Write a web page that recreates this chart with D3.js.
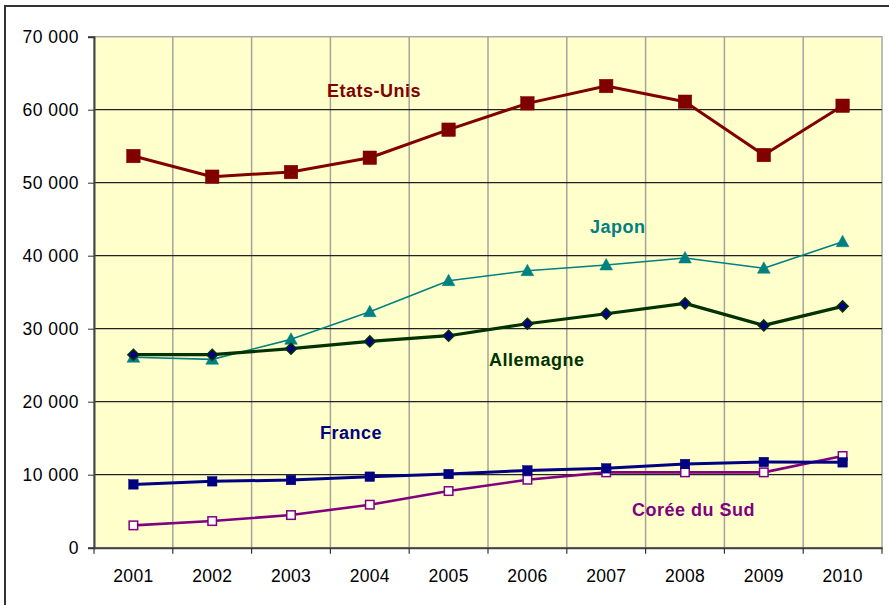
<!DOCTYPE html>
<html><head><meta charset="utf-8">
<script src="https://cdn.jsdelivr.net/npm/d3@7"></script>
<style>body{margin:0;background:#fff}svg{display:block}</style>
</head><body>
<svg id="chart" width="889" height="605"></svg>
<script>
const years = ["2001","2002","2003","2004","2005","2006","2007","2008","2009","2010"];
const yTicks = [0,10000,20000,30000,40000,50000,60000,70000];
const etatsUnis = [53650,50820,51460,53420,57260,60870,63240,61090,53790,60540];
const japon     = [26080,25800,28540,32320,36570,37940,38720,39680,38270,41910];
const allemagne = [26440,26440,27260,28260,29040,30680,32050,33470,30450,33060];
const france    = [8670,9090,9270,9730,10090,10590,10870,11460,11740,11690];
const coree     = [3060,3650,4470,5890,7760,9310,10320,10320,10320,12560];

const series = [
  {name:"Japon", values:japon, color:"#008080", width:1.6, marker:"triangle", size:11, fill:"#008080", stroke:"#008080", label:[590,233]},
  {name:"Allemagne", values:allemagne, color:"#003300", width:3.2, marker:"diamond", size:9, fill:"#000080", stroke:"#003300", label:[489,366]},
  {name:"Corée du Sud", values:coree, color:"#800080", width:2.6, marker:"square", size:8.5, fill:"#ffffff", stroke:"#800080", label:[632,516]},
  {name:"France", values:france, color:"#000080", width:3, marker:"square", size:9.5, fill:"#000080", stroke:"#000080", label:[320,439]},
  {name:"Etats-Unis", values:etatsUnis, color:"#800000", width:3, marker:"square", size:13.5, fill:"#800000", stroke:"#800000", label:[327,97]}
];

const svg = d3.select("#chart");
const L = 94, R = 882, T = 36.7, B = 547.7;
const x = d3.scaleBand().domain(years).range([L, R]);
const y = d3.scaleLinear().domain([0,70000]).range([B, T]);

svg.append("rect").attr("x",5).attr("y",6).attr("width",920).attr("height",700)
  .attr("fill","#fff").attr("stroke","#333").attr("stroke-width",2);

svg.append("rect").attr("x",L).attr("y",T).attr("width",R-L).attr("height",B-T)
  .attr("fill","#FFFFCC").attr("stroke","#a8a8a8").attr("stroke-width",1.5);

svg.append("g").selectAll("line").data(years.slice(1)).join("line")
  .attr("x1",d=>x(d)).attr("x2",d=>x(d)).attr("y1",T).attr("y2",B)
  .attr("stroke","#a4a49a").attr("stroke-width",1.5);

svg.append("g").selectAll("line").data(yTicks.slice(1,-1)).join("line")
  .attr("x1",L).attr("x2",R).attr("y1",d=>y(d)).attr("y2",d=>y(d))
  .attr("stroke","#222").attr("stroke-width",1.2);

const yAxis = svg.append("g").attr("transform",`translate(${L},0)`)
  .call(d3.axisLeft(y).tickValues(yTicks).tickSize(6).tickPadding(9)
    .tickFormat(d => d3.format(",")(d).replace(/,/g," ")));
yAxis.select(".domain").attr("stroke","#444").attr("stroke-width",2);
yAxis.selectAll(".tick line").attr("stroke","#333");
yAxis.selectAll("text").attr("font-family","Liberation Sans, Arial, sans-serif")
  .attr("font-size",17.5).attr("letter-spacing",0.5).attr("fill","#000");

const xAxis = svg.append("g").attr("transform",`translate(0,${B})`)
  .call(d3.axisBottom(x).tickSize(0).tickPadding(22));
xAxis.select(".domain").attr("stroke","#444").attr("stroke-width",2);
xAxis.selectAll("text").attr("font-family","Liberation Sans, Arial, sans-serif")
  .attr("font-size",17.5).attr("letter-spacing",0.3).attr("fill","#000");
svg.append("g").selectAll("line").data(years.concat(["end"])).join("line")
  .attr("x1",(d,i)=> i<years.length ? x(d) : R).attr("x2",(d,i)=> i<years.length ? x(d) : R)
  .attr("y1",B).attr("y2",B+6).attr("stroke","#333").attr("stroke-width",1.2);

const cx = d => x(d) + x.bandwidth()/2;
const line = d3.line().x(d=>cx(d.year)).y(d=>y(d.v));

series.forEach(s => {
  const pts = s.values.map((v,i)=>({year:years[i], v}));
  const g = svg.append("g");
  g.append("path").datum(pts).attr("d",line).attr("fill","none")
    .attr("stroke",s.color).attr("stroke-width",s.width).attr("stroke-linejoin","round");
  const m = g.selectAll(".m").data(pts).join("g")
    .attr("transform",d=>`translate(${cx(d.year)},${y(d.v)})`);
  if (s.marker === "square") {
    m.append("rect").attr("x",-s.size/2).attr("y",-s.size/2).attr("width",s.size).attr("height",s.size)
      .attr("fill",s.fill).attr("stroke",s.stroke).attr("stroke-width", s.fill==="#ffffff"?1.5:0.5);
  } else if (s.marker === "triangle") {
    const h = s.size;
    m.append("path").attr("d",`M0,${-h*0.6}L${h*0.58},${h*0.45}L${-h*0.58},${h*0.45}Z`)
      .attr("fill",s.fill).attr("stroke",s.stroke).attr("stroke-width",0.5);
  } else if (s.marker === "diamond") {
    const h = s.size/2+1;
    m.append("path").attr("d",`M0,${-h}L${h},0L0,${h}L${-h},0Z`)
      .attr("fill",s.fill).attr("stroke",s.stroke).attr("stroke-width",1.5);
  }
  svg.append("text").attr("x",s.label[0]).attr("y",s.label[1]).text(s.name)
    .attr("font-family","Liberation Sans, Arial, sans-serif").attr("font-weight","bold")
    .attr("font-size",18).attr("letter-spacing",0.5).attr("fill",s.color);
});
</script>
</body></html>
